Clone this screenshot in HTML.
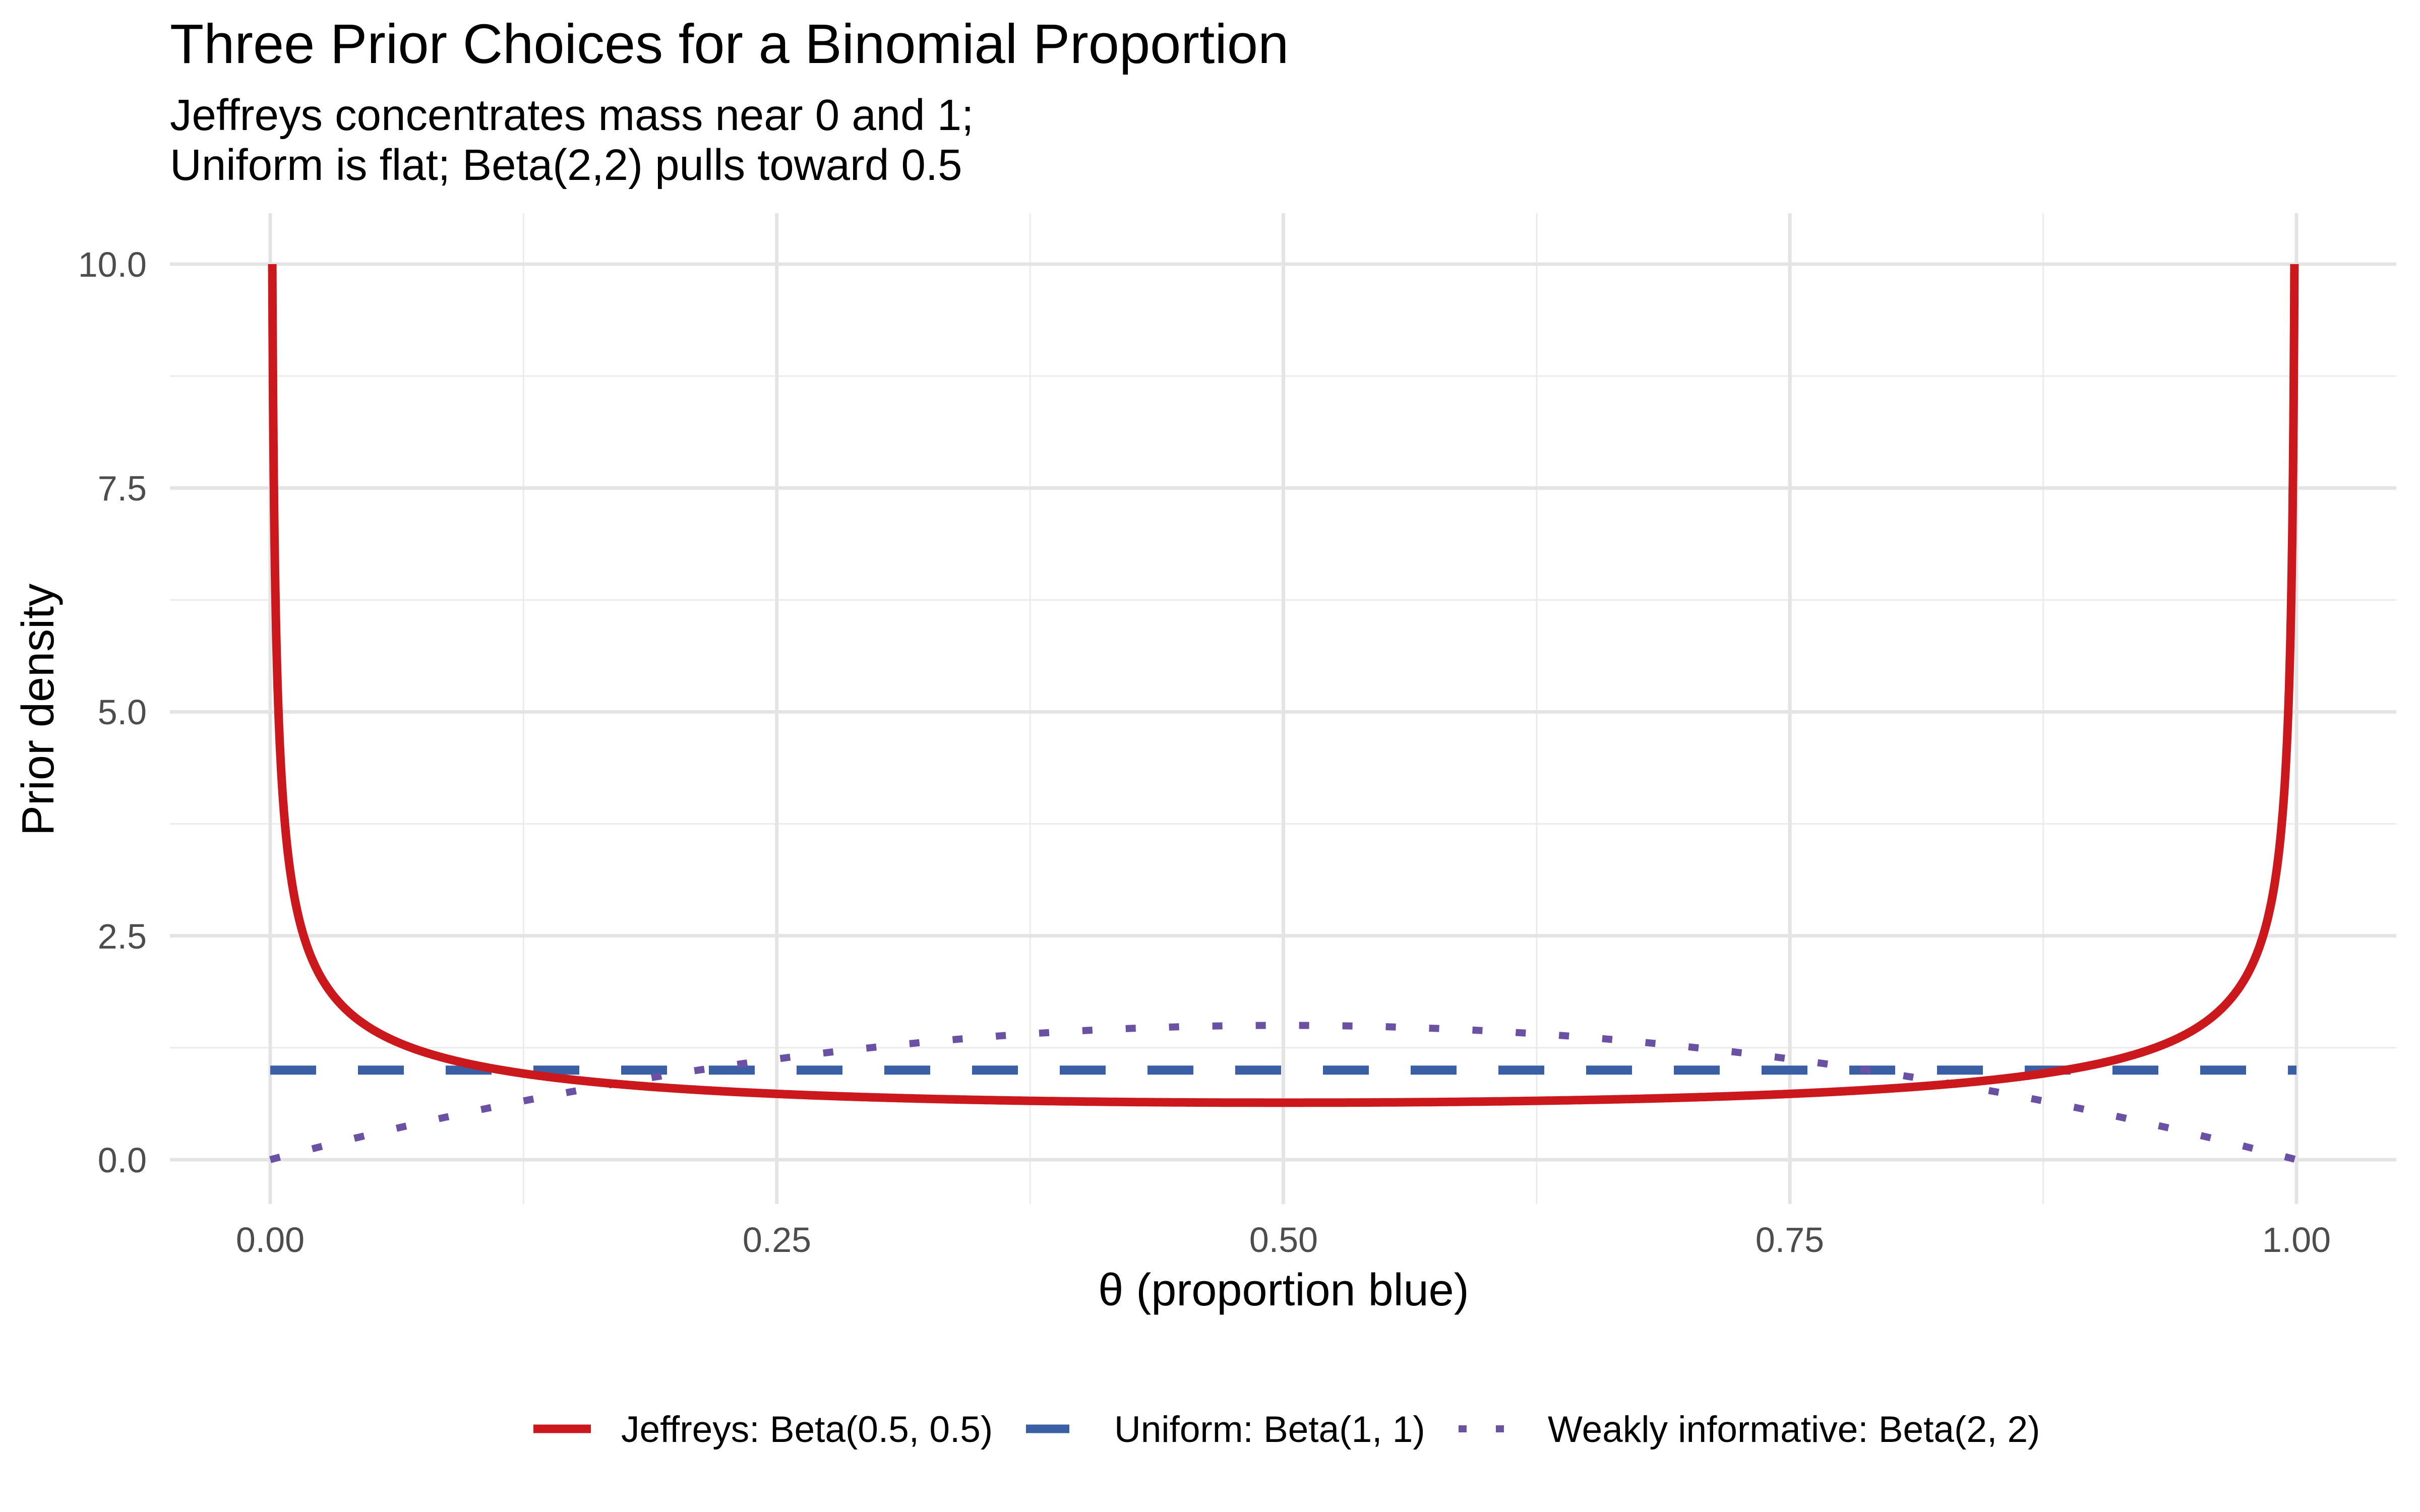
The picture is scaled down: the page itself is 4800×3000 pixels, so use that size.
<!DOCTYPE html>
<html><head><meta charset="utf-8"><style>
html,body{margin:0;padding:0;background:#fff;}
svg{display:block;font-family:"Liberation Sans",Arial,sans-serif;}
</style></head><body>
<svg id="s" width="4800" height="3000" viewBox="0 0 4800 3000" xmlns="http://www.w3.org/2000/svg">
<rect width="4800" height="3000" fill="#fff"/>
<g id="grid"></g>
<g id="series"></g>
<text x="337" y="125" font-size="110" fill="#000">Three Prior Choices for a Binomial Proportion</text>
<text x="337" y="258" font-size="87" fill="#000">Jeffreys concentrates mass near 0 and 1;</text>
<text x="337" y="357" font-size="87" fill="#000">Uniform is flat; Beta(2,2) pulls toward 0.5</text>
<g font-size="70" fill="#4d4d4d" text-anchor="end">
<text x="291" y="549">10.0</text>
<text x="291" y="993">7.5</text>
<text x="291" y="1437">5.0</text>
<text x="291" y="1882">2.5</text>
<text x="291" y="2326">0.0</text>
</g>
<g font-size="70" fill="#4d4d4d" text-anchor="middle">
<text x="536" y="2484">0.00</text>
<text x="1541" y="2484">0.25</text>
<text x="2546" y="2484">0.50</text>
<text x="3550" y="2484">0.75</text>
<text x="4555" y="2484">1.00</text>
</g>
<text x="2546" y="2590" font-size="90" fill="#000" text-anchor="middle">θ (proportion blue)</text>
<text transform="translate(106,1408) rotate(-90)" font-size="90" fill="#000" text-anchor="middle">Prior density</text>
<g>
<line x1="1058" y1="2835" x2="1172" y2="2835" stroke="#CB181D" stroke-width="17"/>
<line x1="2035" y1="2835" x2="2121" y2="2835" stroke="#3A5FA5" stroke-width="17"/>
<line x1="2893" y1="2835" x2="2989" y2="2835" stroke="#6A51A3" stroke-width="14" stroke-dasharray="16 58"/>
<g font-size="73" fill="#000">
<text x="1232" y="2861">Jeffreys: Beta(0.5, 0.5)</text>
<text x="2210" y="2861">Uniform: Beta(1, 1)</text>
<text x="3070" y="2861">Weakly informative: Beta(2, 2)</text>
</g>
</g>
</svg>
<script>
var NS="http://www.w3.org/2000/svg";
function X(x){return 536+x*4019;}
function Y(y){return 2301-y*177.7;}
var g=document.getElementById("grid"),s=document.getElementById("series");
function ln(p,x1,y1,x2,y2,c,w,extra){var l=document.createElementNS(NS,"line");l.setAttribute("x1",x1);l.setAttribute("y1",y1);l.setAttribute("x2",x2);l.setAttribute("y2",y2);l.setAttribute("stroke",c);l.setAttribute("stroke-width",w);if(extra)for(var k in extra)l.setAttribute(k,extra[k]);p.appendChild(l);}
var L=337,R=4753,T=423,B=2389;
for(var i=0;i<4;i++){var v=1.25+2.5*i;ln(g,L,Y(v),R,Y(v),"#ebebeb",3);}
for(var i=0;i<4;i++){var v=0.125+0.25*i;ln(g,X(v),T,X(v),B,"#ebebeb",3);}
for(var i=0;i<5;i++){ln(g,L,Y(2.5*i),R,Y(2.5*i),"#e4e4e4",7);ln(g,X(0.25*i),T,X(0.25*i),B,"#e4e4e4",7);}
function jf(x){return 1/(Math.PI*Math.sqrt(x*(1-x)));}
ln(s,X(0),Y(1),X(1),Y(1),"#3A5FA5",18,{"stroke-dasharray":"91 83"});
(function(){var d="";for(var i=0;i<=400;i++){var x=i/400;d+=(i?"L":"M")+X(x).toFixed(1)+","+Y(6*x*(1-x)).toFixed(1);}
var p=document.createElementNS(NS,"path");p.setAttribute("d",d);p.setAttribute("fill","none");p.setAttribute("stroke","#6A51A3");p.setAttribute("stroke-width",14);p.setAttribute("stroke-dasharray","20 66");s.appendChild(p);})();
(function(){var d="",n=2000,x0=0.001014;
 for(var i=0;i<=n;i++){var t=i/n;var x=x0+(1-2*x0)*(0.5-0.5*Math.cos(Math.PI*t));
  d+=(i?"L":"M")+X(x).toFixed(1)+","+Y(Math.min(10,jf(x))).toFixed(1);}
 var p=document.createElementNS(NS,"path");p.setAttribute("d",d);p.setAttribute("fill","none");p.setAttribute("stroke","#CB181D");p.setAttribute("stroke-width",17);s.appendChild(p);})();
</script>
</body></html>
